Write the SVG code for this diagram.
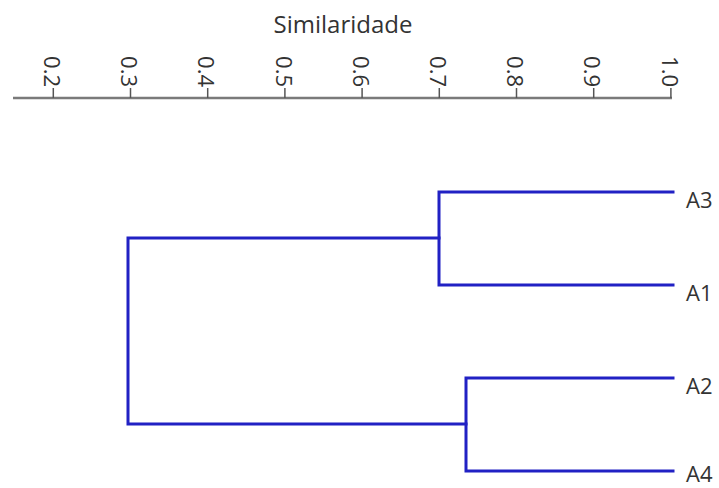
<svg xmlns="http://www.w3.org/2000/svg" width="719" height="488" viewBox="0 0 719 488">
<style>
.axis{stroke:#7a7a7a;stroke-width:2.5;fill:none}
.tick{stroke:#555;stroke-width:1.5}
.tl{font-family:"Open Sans","Noto Sans",sans-serif;font-size:22px;fill:#333;text-anchor:end}
.title{font-family:"Open Sans","Noto Sans",sans-serif;font-size:24px;fill:#333;text-anchor:middle}
.lbl{font-family:"Open Sans","Noto Sans",sans-serif;font-size:22px;fill:#333}
.br{stroke:#2121c4;stroke-width:3;fill:none;stroke-linecap:square}
</style>
<rect width="719" height="488" fill="#fff"/>
<text class="title" x="343" y="33">Similaridade</text>
<g id="axis">
<line class="axis" x1="13" y1="98" x2="672" y2="98"/>
<g class="ticks">
<line class="tick" x1="53.3" y1="88" x2="53.3" y2="98"/>
<line class="tick" x1="130.5" y1="88" x2="130.5" y2="98"/>
<line class="tick" x1="207.7" y1="88" x2="207.7" y2="98"/>
<line class="tick" x1="284.9" y1="88" x2="284.9" y2="98"/>
<line class="tick" x1="362.1" y1="88" x2="362.1" y2="98"/>
<line class="tick" x1="439.3" y1="88" x2="439.3" y2="98"/>
<line class="tick" x1="516.5" y1="88" x2="516.5" y2="98"/>
<line class="tick" x1="593.7" y1="88" x2="593.7" y2="98"/>
<line class="tick" x1="670.9" y1="88" x2="670.9" y2="98"/>
</g>
<text class="tl" transform="translate(44,87) rotate(90)">0.2</text>
<text class="tl" transform="translate(121.2,87) rotate(90)">0.3</text>
<text class="tl" transform="translate(198.4,87) rotate(90)">0.4</text>
<text class="tl" transform="translate(275.6,87) rotate(90)">0.5</text>
<text class="tl" transform="translate(352.8,87) rotate(90)">0.6</text>
<text class="tl" transform="translate(430,87) rotate(90)">0.7</text>
<text class="tl" transform="translate(507.2,87) rotate(90)">0.8</text>
<text class="tl" transform="translate(584.4,87) rotate(90)">0.9</text>
<text class="tl" transform="translate(661.6,87) rotate(90)">1.0</text>
</g>
<g id="connectors">
<path class="br" d="M673,192 H439 V285 H673"/>
<path class="br" d="M439,238 H128 V424 H466"/>
<path class="br" d="M673,378 H466 V471 H673"/>
</g>
<g id="A3"><text class="lbl" x="686" y="208">A3</text></g>
<g id="A1"><text class="lbl" x="686" y="301">A1</text></g>
<g id="A2"><text class="lbl" x="686" y="394">A2</text></g>
<g id="A4"><text class="lbl" x="686" y="482">A4</text></g>
</svg>
